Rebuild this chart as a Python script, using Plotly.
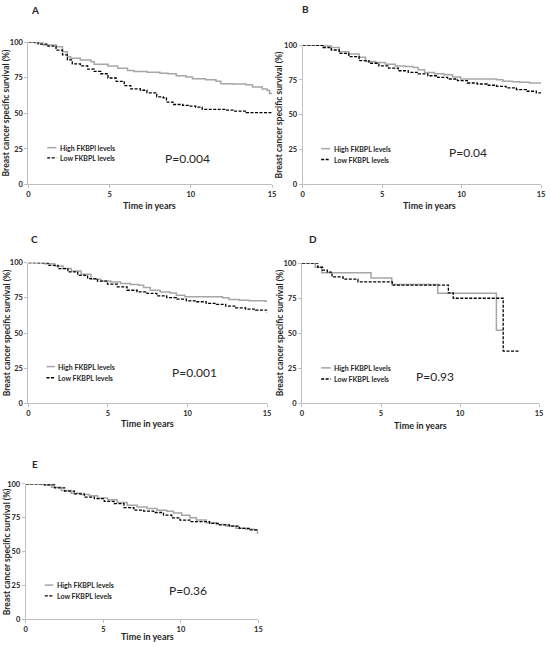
import plotly.graph_objects as go

W, H = 550, 647

# ---------------- data ----------------
A_high_t = [0, 0.4, 0.9, 1.7, 2.1, 2.4, 2.6, 3.2, 3.85, 4.05, 4.9, 5.5, 6.1, 6.5, 7.3, 8.1, 8.6, 9.1, 9.7, 10.1, 10.9, 11.55, 11.85, 12.6, 13.4, 13.8, 14.4, 14.7, 14.85, 15]
A_high_s = [100, 99.5, 98, 96.8, 93.3, 89.8, 88.7, 87.5, 86.3, 84.5, 83.3, 81.7, 80.1, 79.4, 78.9, 78.2, 77.8, 76.4, 75.5, 74.3, 73.6, 72.5, 70.8, 70.6, 70.1, 68.5, 67.1, 66, 63.9, 63.5]
A_low_t = [0, 0.6, 1.2, 1.7, 2.1, 2.4, 2.7, 3.2, 3.65, 4.05, 4.45, 4.9, 5.4, 5.9, 6.3, 6.9, 7.3, 7.9, 8.3, 8.5, 8.9, 9.5, 9.9, 10.3, 10.7, 11.35, 12.2, 12.6, 13.4, 15]
A_low_s = [100, 98.6, 97.2, 94.4, 91, 87.5, 84.7, 83.3, 81, 79.4, 77.8, 74.8, 72.5, 69.4, 67.1, 66.2, 64.4, 61.6, 60.9, 57.9, 56.2, 55.6, 55.1, 54.4, 52.8, 52.8, 52.3, 51.6, 50.5, 50.5]

B_high_t = [0, 0.66, 1.28, 1.8, 2.3, 2.9, 3.55, 3.96, 4.58, 5.2, 5.82, 6.44, 6.95, 7.26, 7.67, 8.29, 8.9, 9.43, 9.94, 12.2, 12.6, 13.2, 13.66, 14.28, 15]
B_high_s = [100, 100, 99.3, 98.3, 95.3, 93.6, 91.3, 88.2, 87.5, 86.3, 85.1, 84.6, 83.9, 82.3, 80.4, 79.4, 78.7, 77.1, 75.7, 75.2, 74, 73.8, 73.3, 72.8, 72.8]
B_low_t = [0, 0.87, 1.28, 1.8, 2.3, 2.9, 3.55, 4.17, 4.79, 5.4, 6.02, 6.64, 7.26, 7.88, 8.5, 9.12, 9.74, 10.36, 10.98, 11.6, 12.2, 12.8, 13.45, 14.07, 14.7, 15]
B_low_s = [100, 99.8, 98.3, 96.5, 94.1, 91.7, 88.9, 87, 85.1, 83.5, 81.6, 80.4, 79.4, 78, 76.8, 75.7, 74.5, 72.8, 72.1, 71.2, 70.4, 69.3, 68.1, 66.9, 65.7, 65]

C_high_t = [0, 0.41, 1.03, 1.66, 2.17, 2.69, 3.31, 3.93, 4.55, 5.17, 5.8, 6.41, 6.93, 7.24, 7.66, 8.28, 8.9, 9.3, 9.83, 12.2, 12.6, 13.24, 13.86, 14.9, 15]
C_high_s = [100, 100, 99.3, 97.6, 95.8, 94.1, 91.7, 88.2, 87, 86.3, 85.1, 84.4, 84, 82.3, 80.4, 79.2, 78.5, 76.9, 75.7, 75, 73.8, 73.3, 72.9, 72.6, 72.6]
C_low_t = [0, 0.62, 1.24, 1.86, 2.48, 3.1, 3.72, 4.34, 4.97, 5.59, 6.2, 6.83, 7.45, 8.07, 8.69, 9.3, 9.93, 10.55, 11.17, 11.8, 12.4, 13.03, 13.65, 14.28, 15]
C_low_s = [100, 99.8, 98.1, 95.8, 93.4, 91, 88.7, 86.8, 84.7, 82.8, 80.4, 79.2, 78.1, 76.4, 75.2, 74.1, 72.9, 72.2, 71, 70.3, 69.1, 67.9, 67, 66.3, 64.6]

D_high_t = [0, 0.84, 1.25, 4.37, 5.68, 8.59, 12.3, 12.73]
D_high_s = [100, 97, 93, 89.4, 84.7, 78.4, 52.1, 52.1]
D_low_t = [0, 1.0, 1.3, 1.6, 1.9, 2.6, 3.54, 5.72, 9.26, 9.57, 12.73, 13.73]
D_low_s = [100, 97, 95, 93.5, 90.1, 88.5, 86.6, 84.3, 78.7, 74.9, 37.3, 37.3]

E_high_t = [0, 0.81, 1.13, 1.66, 2.29, 2.93, 3.57, 4.1, 4.63, 5.27, 5.9, 6.54, 7.18, 7.82, 8.46, 9.09, 9.52, 10.05, 10.58, 11, 11.64, 12.28, 12.92, 13.55, 14.19, 14.72, 14.94, 15]
E_high_s = [100, 100, 99.3, 97.6, 95.1, 93.2, 92.2, 91.3, 89.6, 88.3, 86.2, 84.2, 83, 81.8, 80.6, 79.9, 78.6, 76.9, 75, 73.3, 71.4, 70.1, 68.9, 67.2, 66.5, 66, 63.6, 63.6]
E_low_t = [0, 0.91, 1.23, 1.87, 2.51, 3.14, 3.78, 4.42, 5.06, 5.69, 6.33, 6.97, 7.6, 8.24, 8.88, 9.41, 9.94, 10.58, 11.85, 12.49, 13.13, 13.77, 14.4, 14.94]
E_low_s = [100, 100, 99.3, 97.1, 94.7, 92.7, 90.3, 89.1, 87.1, 85.4, 82.5, 80.6, 79.9, 78.9, 76.9, 75, 73.3, 72.1, 70.9, 69.7, 68.9, 67.2, 66, 65.3]

panel_labels = ["A", "B", "C", "D", "E"]
p_values = ["P=0.004", "P=0.04", "P=0.001", "P=0.93", "P=0.36"]
high_names = ["High FKBPl levels", "High FKBPL levels", "High FKBPL levels", "High FKBPL levels", "High FKBPL levels"]
low_name = "Low FKBPL levels"
x_ticks = [0, 5, 10, 15]
y_ticks = [0, 25, 50, 75, 100]
x_title = "Time in years"
y_title = "Breast cancer specific survival (%)"

series = [
    (A_high_t, A_high_s, A_low_t, A_low_s),
    (B_high_t, B_high_s, B_low_t, B_low_s),
    (C_high_t, C_high_s, C_low_t, C_low_s),
    (D_high_t, D_high_s, D_low_t, D_low_s),
    (E_high_t, E_high_s, E_low_t, E_low_s),
]

# ---------------- layout geometry (pixels) ----------------
# (x_left, x_right, y_top, y_bottom) of each plot area
boxes = [
    (26.7, 273.0, 38.7, 183.0),
    (304.0, 545.0, 41.7, 183.0),
    (26.7, 268.0, 262.3, 405.0),
    (303.3, 543.0, 262.7, 405.0),
    (24.0, 259.3, 486.7, 624.0),
]
label_pos = [(33, 6), (307, 5), (33, 238), (314, 238), (33, 466)]
ytitle_pos = [(5, 110), (281, 112), (5, 333), (281, 333), (5, 555)]
xtitle_pos = [(149, 204), (432, 204), (147, 425), (423, 427), (147, 641)]
pval_pos = [(188, 156.7), (471, 150.7), (195, 373.3), (438, 377.7), (188, 595)]
# legend: (line x0, line x1, y high, y low)
legend_pos = [(45.7, 55, 145.7, 156), (322.7, 331.7, 146.7, 157.7), (45, 53.3, 367.7, 379),
              (322.7, 332.3, 369, 380.3), (43.3, 51.7, 589.3, 600.3)]

HIGH_COLOR = "#a6a6a6"
LOW_COLOR = "#000000"
AXIS_COLOR = "#bfbfbf"
TEXT_COLOR = "#262626"
FONT = "Lato, Open Sans, sans-serif"


def px(x):
    return x / W


def py(y):
    return 1 - y / H


fig = go.Figure()
layout = dict(
    width=W, height=H, margin=dict(l=0, r=0, t=0, b=0),
    paper_bgcolor="white", plot_bgcolor="white", showlegend=False,
    font=dict(family=FONT, color=TEXT_COLOR),
)
annotations = []
shapes = []

for i, (ht, hs, lt, ls) in enumerate(series):
    n = "" if i == 0 else str(i + 1)
    xa, ya = "x" + n, "y" + n
    fig.add_trace(go.Scatter(x=ht, y=hs, mode="lines", line=dict(color=HIGH_COLOR, width=1.5, shape="hv"),
                             name=high_names[i], xaxis=xa, yaxis=ya))
    fig.add_trace(go.Scatter(x=lt, y=ls, mode="lines", line=dict(color=LOW_COLOR, width=1.3, shape="hv", dash="3px,1.5px"),
                             name=low_name, xaxis=xa, yaxis=ya))
    x0, x1, yt, yb = boxes[i]
    common = dict(showline=True, linecolor=AXIS_COLOR, linewidth=1, ticks="outside", ticklen=3,
                  tickcolor=AXIS_COLOR, showgrid=False, zeroline=False, ticklabeloverflow="allow",
                  tickfont=dict(family=FONT, size=7.5, color=TEXT_COLOR, weight="bold"))
    layout["xaxis" + n] = dict(domain=[px(x0), px(x1)], range=[0, 15], tickvals=x_ticks,
                               anchor=ya, **common)
    layout["yaxis" + n] = dict(domain=[py(yb), py(yt)], range=[0, 100], tickvals=y_ticks,
                               anchor=xa, **common)

    annotations.append(dict(text=panel_labels[i], x=px(label_pos[i][0]), y=py(label_pos[i][1]), xref="paper", yref="paper",
                            showarrow=False, xanchor="center", yanchor="middle",
                            font=dict(size=10, weight="bold", color=TEXT_COLOR)))
    annotations.append(dict(text=y_title, x=px(ytitle_pos[i][0]), y=py(ytitle_pos[i][1]), xref="paper", yref="paper",
                            showarrow=False, textangle=-90, xanchor="center", yanchor="middle",
                            font=dict(size=8.5, weight="bold", color=TEXT_COLOR)))
    annotations.append(dict(text=x_title, x=px(xtitle_pos[i][0]), y=py(xtitle_pos[i][1]), xref="paper", yref="paper",
                            showarrow=False, xanchor="center", yanchor="middle",
                            font=dict(size=9, weight="bold", color=TEXT_COLOR)))
    annotations.append(dict(text=p_values[i], x=px(pval_pos[i][0]), y=py(pval_pos[i][1]), xref="paper", yref="paper",
                            showarrow=False, xanchor="center", yanchor="middle",
                            font=dict(size=12, color=TEXT_COLOR)))
    lx0, lx1, lyh, lyl = legend_pos[i]
    shapes.append(dict(type="line", xref="paper", yref="paper", x0=px(lx0), x1=px(lx1), y0=py(lyh), y1=py(lyh),
                       line=dict(color=HIGH_COLOR, width=1.5)))
    shapes.append(dict(type="line", xref="paper", yref="paper", x0=px(lx0), x1=px(lx1), y0=py(lyl), y1=py(lyl),
                       line=dict(color=LOW_COLOR, width=1.3, dash="3px,1.5px")))
    annotations.append(dict(text=high_names[i], x=px(lx1 + 1.5), y=py(lyh), xref="paper", yref="paper",
                            showarrow=False, xanchor="left", yanchor="middle",
                            font=dict(size=7, weight="bold", color=TEXT_COLOR)))
    annotations.append(dict(text=low_name, x=px(lx1 + 1.5), y=py(lyl), xref="paper", yref="paper",
                            showarrow=False, xanchor="left", yanchor="middle",
                            font=dict(size=7, weight="bold", color=TEXT_COLOR)))

layout["annotations"] = annotations
layout["shapes"] = shapes
fig.update_layout(**layout)
fig.write_html("out.html", config={"displayModeBar": False},
               post_script="document.body.style.margin='0';document.body.style.overflow='hidden';")
